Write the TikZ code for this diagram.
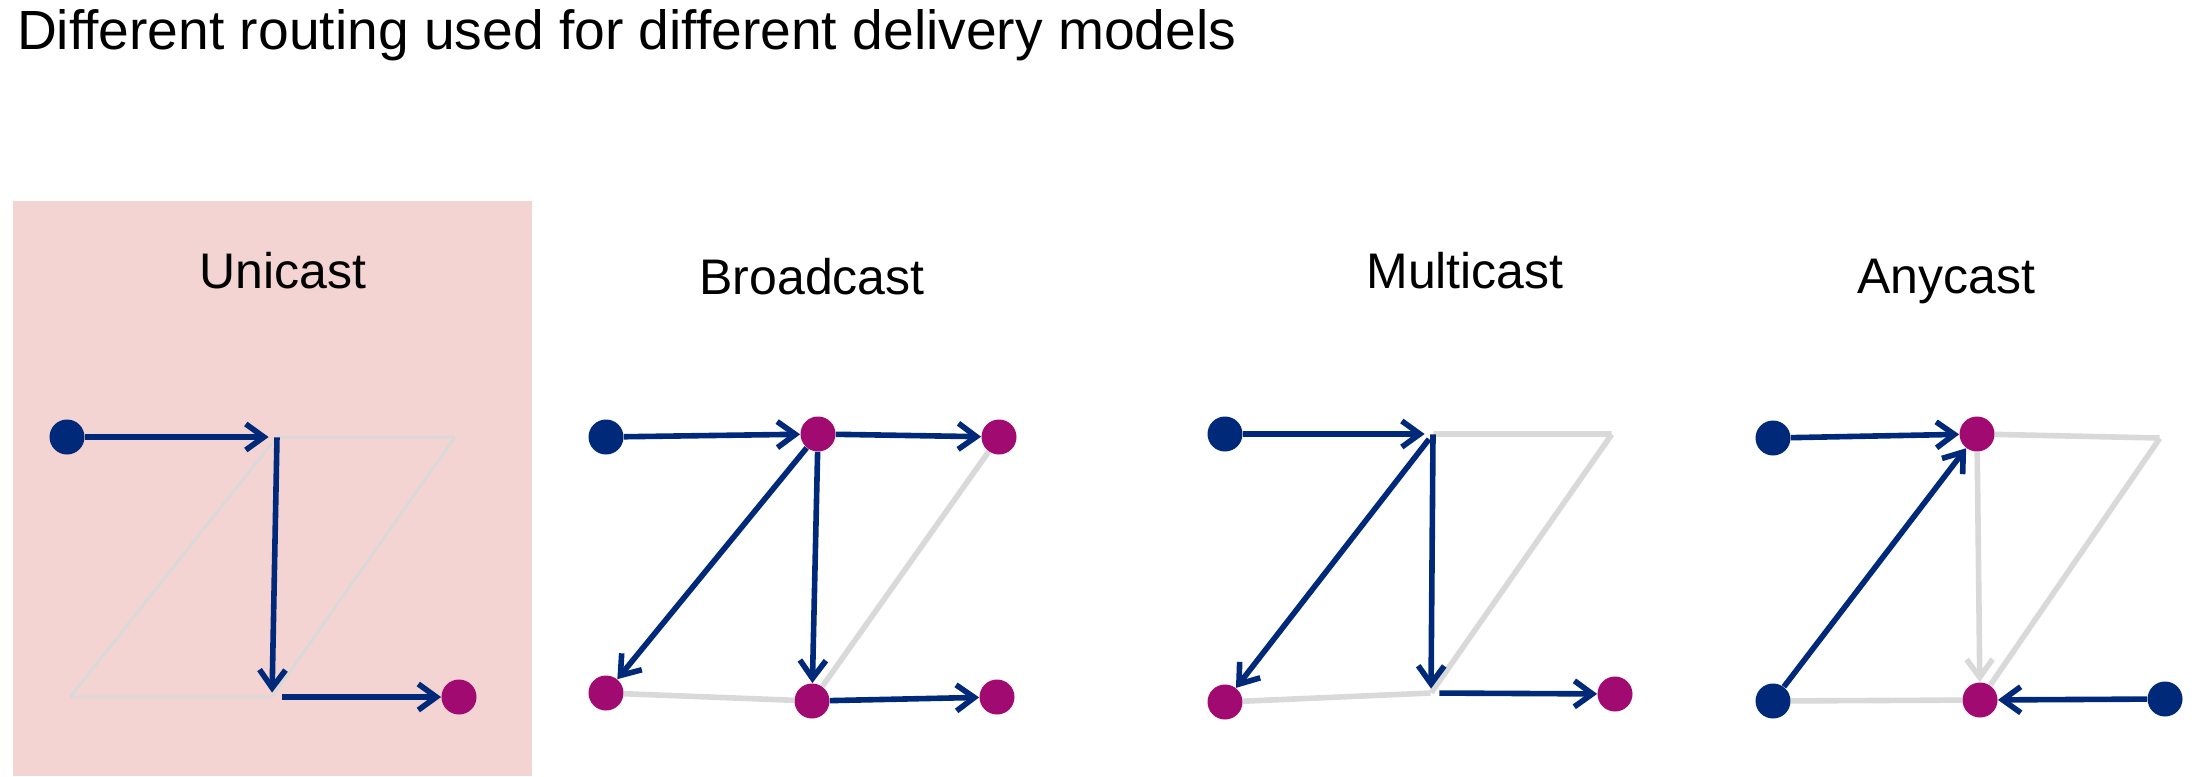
\documentclass[tikz,border=0pt]{standalone}
\usepackage{fontspec}
\setmainfont{Liberation Sans}
\usetikzlibrary{arrows.meta}
\usetikzlibrary{positioning}

\definecolor{navy}{RGB}{0,41,122}
\definecolor{plum}{RGB}{161,10,112}
\definecolor{idlegray}{RGB}{217,217,217}
\definecolor{panelpink}{RGB}{244,212,210}

\tikzstyle{src_node} = [
    circle, 
    fill=navy, 
    inner sep=0pt, 
    minimum size=17.5pt
]
\tikzstyle{dst_node} = [
    circle, 
    fill=plum, 
    inner sep=0pt, 
    minimum size=17.5pt
]
\tikzstyle{hop} = [
    inner sep=0pt, 
    minimum size=0pt % just a point on the path
]
\tikzstyle{route} = [
    draw=navy, 
    line width=2.8pt, 
    -{Straight Barb[length=9pt, width=13pt]}
]
\tikzstyle{idle} = [
    draw=idlegray, 
    line width=2.8pt
]
\tikzstyle{model_title} = [
    anchor=base, 
    font=\fontsize{25}{30}\selectfont
]

\begin{document}
\begin{tikzpicture}[x=0.5pt, y=-0.5pt]
\useasboundingbox (0,0) rectangle (2198,776);
\fill [panelpink] (12.5,201) rectangle (532,776);

\node [anchor=base west, font=\fontsize{27.6}{33}\selectfont] (heading) at (10,49) {Different routing used for different delivery models};

% unicast
\node [model_title] (uni_title) at (283,288) {Unicast};
\node [src_node] (u_a1) at (67,437) {};
\node [hop] (u_a2) at (277,437) {};
\node [hop] (u_a3) at (455,437) {};
\node [hop] (u_b1) at (70,697) {};
\node [hop] (u_b2) at (272,697) {};
\node [dst_node] (u_b3) at (459,697) {};
\draw [idle, line width=1.4pt] (u_b1) -- (u_a2) -- (u_a3) -- (u_b2) -- (u_b1);
\draw [route, shorten >=4pt] (u_a1) -- (u_a2);
\draw [route, shorten >=2pt] (u_a2) -- (u_b2);
\draw [route, shorten <=5pt] (u_b2) -- (u_b3);

% broadcast
\node [model_title] (broad_title) at (812,294) {Broadcast};
\node [src_node] (b_a1) at (606,437) {};
\node [dst_node] (b_a2) at (818,434) {};
\node [dst_node] (b_a3) at (999,437) {};
\node [dst_node] (b_b1) at (606,693) {};
\node [dst_node] (b_b2) at (812,701) {};
\node [dst_node] (b_b3) at (997,697) {};
\draw [idle] (b_b1) -- (b_b2);
\draw [idle] (b_a3) -- (b_b2);
\draw [route] (b_a1) -- (b_a2);
\draw [route] (b_a2) -- (b_a3);
\draw [route] (b_a2) -- (b_b1);
\draw [route] (b_a2) -- (b_b2);
\draw [route] (b_b2) -- (b_b3);

% multicast
\node [model_title] (multi_title) at (1465,288) {Multicast};
\node [src_node] (m_a1) at (1225,434) {};
\node [hop] (m_a2) at (1433,434) {};
\node [hop] (m_a3) at (1612,434) {};
\node [dst_node] (m_b1) at (1225,702) {};
\node [hop] (m_b2) at (1431,693) {};
\node [dst_node] (m_b3) at (1615,694) {};
\draw [idle] (m_a2) -- (m_a3) -- (m_b2) -- (m_b1);
\draw [route, shorten >=4pt] (m_a1) -- (m_a2);
\draw [route, shorten <=3pt] (m_a2) -- (m_b1);
\draw [route, shorten >=2pt] (m_a2) -- (m_b2);
\draw [route, shorten <=4pt] (m_b2) -- (m_b3);

% anycast
\node [model_title] (any_title) at (1946,293) {Anycast};
\node [src_node] (a_a1) at (1773,438) {};
\node [dst_node] (a_a2) at (1977,434) {};
\node [hop] (a_a3) at (2160,438) {};
\node [src_node] (a_b1) at (1773,701) {};
\node [dst_node] (a_b2) at (1980,700) {};
\node [src_node] (a_b3) at (2165,699) {};
\draw [idle] (a_a2) -- (a_a3) -- (a_b2);
\draw [idle] (a_b1) -- (a_b2);
\draw [idle, -{Straight Barb[length=9pt, width=13pt]}] (a_a2) -- (a_b2);
\draw [route] (a_a1) -- (a_a2);
\draw [route] (a_b1) -- (a_a2);
\draw [route] (a_b3) -- (a_b2);
\end{tikzpicture}
\end{document}
